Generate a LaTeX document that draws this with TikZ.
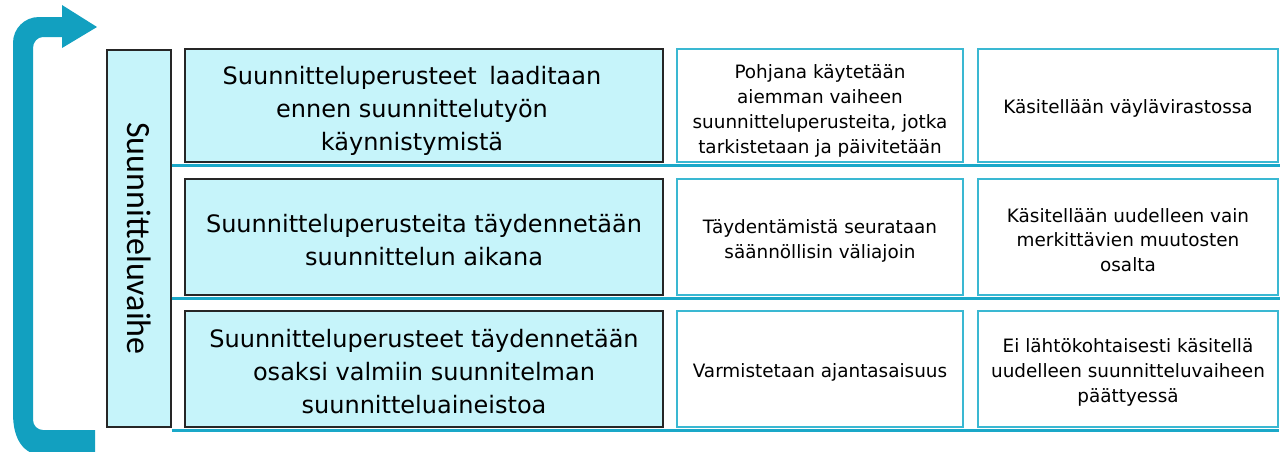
\documentclass[tikz,border=0pt]{standalone}
\usepackage{fontspec}
\setmainfont{DejaVu Sans}
\newfontfamily\carl{Carlito}
\usetikzlibrary{calc}
\definecolor{arrowteal}{HTML}{12A0C0}
\definecolor{septeal}{HTML}{1AA8C8}
\definecolor{boxfill}{HTML}{C6F4FA}
\definecolor{boxline}{HTML}{3AB8D2}
\begin{document}
\begin{tikzpicture}[x=1pt,y=-1pt,
  bigbox/.style={draw=black!85, line width=1.3pt, fill=boxfill, inner sep=0pt},
  smallbox/.style={draw=boxline, line width=1.3pt, fill=white, inner sep=0pt},
  bigtext/.style={align=center, inner sep=0pt, font=\fontsize{24}{33}\selectfont, text=black},
  smalltext/.style={align=center, inner sep=0pt, font=\fontsize{18.4}{24.8}\selectfont, text=black},
  seprule/.style={draw=septeal, line width=3pt}]
\useasboundingbox (0,0) rectangle (1285,451);
% loop arrow
\fill[arrowteal] (97,27) -- (62,5) -- (62,17) -- (39,17)
  .. controls (24.5,17) and (13,28.5) .. (13,43)
  -- (13,413) .. controls (13,438) and (22,455) .. (45,456)
  -- (95,456) -- (95,430) -- (43,430)
  .. controls (37.5,430) and (33,425.5) .. (33,420)
  -- (33,48) .. controls (33,42) and (37.5,37) .. (43,37)
  -- (62,37) -- (62,48) -- cycle;
% vertical phase box
\node[bigbox, minimum width=64, minimum height=377] (v) at (139,238.5) {};
\node[rotate=-90, inner sep=0pt, font=\carl\fontsize{34}{40}\selectfont] (vt) at (v.center) {Suunnitteluvaihe};
% cell boxes
\node[bigbox, minimum width=478, minimum height=113] (r1b) at (424,105.5) {};
\node[smallbox, minimum width=286, minimum height=113] (r1c) at (820,105.5) {};
\node[smallbox, minimum width=300, minimum height=113] (r1d) at (1128,105.5) {};
\node[bigbox, minimum width=478, minimum height=116] (r2b) at (424,237) {};
\node[smallbox, minimum width=286, minimum height=116] (r2c) at (820,237) {};
\node[smallbox, minimum width=300, minimum height=116] (r2d) at (1128,237) {};
\node[bigbox, minimum width=478, minimum height=116] (r3b) at (424,369) {};
\node[smallbox, minimum width=286, minimum height=116] (r3c) at (820,369) {};
\node[smallbox, minimum width=300, minimum height=116] (r3d) at (1128,369) {};
% cell texts
\node[bigtext] (t1b) at ($(r1b.center)+(-12,5.5)$)
  {Suunnitteluperusteet\hspace{0.2em} laaditaan\\ennen suunnittelutyön\\käynnistymistä};
\node[smalltext] (t1c) at ($(r1c.center)+(0,5.5)$)
  {Pohjana käytetään\\aiemman vaiheen\\suunnitteluperusteita, jotka\\tarkistetaan ja päivitetään};
\node[smalltext] (t1d) at ($(r1d.center)+(0,3)$) {Käsitellään väylävirastossa};
\node[bigtext] (t2b) at ($(r2b.center)+(0,3.5)$)
  {Suunnitteluperusteita täydennetään\\suunnittelun aikana};
\node[smalltext] (t2c) at ($(r2c.center)+(0,4)$)
  {Täydentämistä seurataan\\säännöllisin väliajoin};
\node[smalltext] (t2d) at ($(r2d.center)+(0,3)$)
  {Käsitellään uudelleen vain\\merkittävien muutosten\\osalta};
\node[bigtext] (t3b) at ($(r3b.center)+(0,2.5)$)
  {Suunnitteluperusteet täydennetään\\osaksi valmiin suunnitelman\\suunnitteluaineistoa};
\node[smalltext] (t3c) at ($(r3c.center)+(0,3)$) {Varmistetaan ajantasaisuus};
\node[smalltext] (t3d) at ($(r3d.center)+(0,3.5)$)
  {Ei lähtökohtaisesti käsitellä\\uudelleen suunnitteluvaiheen\\päättyessä};
% separator rules
\draw[seprule] ($(r1b.south -| v.east)+(0,3)$) -- ($(r1d.south east)+(1,3)$);
\draw[seprule] ($(r2b.south -| v.east)+(0,2.5)$) -- ($(r2d.south east)+(1,2.5)$);
\draw[seprule] ($(r3b.south -| v.east)+(0,2.5)$) -- ($(r3d.south east)+(0,2.5)$);
\end{tikzpicture}
\end{document}
